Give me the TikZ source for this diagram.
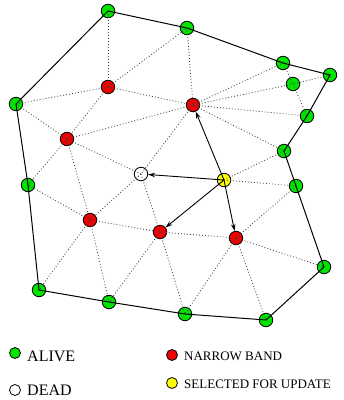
\documentclass[tikz,border=0pt]{standalone}
\usepackage{fontspec}
\setmainfont{Liberation Serif}
\usetikzlibrary{arrows.meta}
\definecolor{alive}{RGB}{0,228,0}
\definecolor{band}{RGB}{240,0,0}
\definecolor{sel}{RGB}{255,255,0}
\tikzset{
  pt/.style={circle,draw=black,line width=0.8pt,minimum size=13.5pt,inner sep=0pt},
  alivept/.style={pt,fill=alive},
  bandpt/.style={pt,fill=band},
  deadpt/.style={pt,fill=white},
  selpt/.style={pt,fill=sel},
  legpt/.style={circle,draw=black,line width=0.8pt,minimum size=11pt,inner sep=0pt},
  tri/.style={black!75,line width=0.8pt,dash pattern=on 0.9pt off 2.1pt},
  bnd/.style={black,line width=1pt},
  upd/.style={black,line width=0.9pt,-{Stealth[length=7pt,width=4.5pt]}},
  lbig/.style={anchor=west,font=\fontsize{16}{18}\selectfont,inner sep=0pt},
  lsmall/.style={anchor=west,font=\fontsize{13}{15}\selectfont,inner sep=0pt}
}
\begin{document}
\begin{tikzpicture}[x=1pt,y=-1pt]
\useasboundingbox (0,0) rectangle (344,400);
% nodes
\node[alivept] (G1) at (108,11) {};
\node[alivept] (G2) at (187,28) {};
\node[alivept] (G3) at (283,63) {};
\node[alivept] (G4) at (330,75) {};
\node[alivept] (G5) at (293,84) {};
\node[alivept] (G6) at (307,116) {};
\node[alivept] (G7) at (284,151) {};
\node[alivept] (G8) at (296,186) {};
\node[alivept] (G9) at (324,267) {};
\node[alivept] (G10) at (266,320) {};
\node[alivept] (G11) at (185,314) {};
\node[alivept] (G12) at (109,302) {};
\node[alivept] (G13) at (39,290) {};
\node[alivept] (G14) at (28,185) {};
\node[alivept] (G15) at (16,104) {};
\node[bandpt] (R1) at (108,87) {};
\node[bandpt] (R2) at (193,105) {};
\node[bandpt] (R3) at (67,139) {};
\node[bandpt] (R4) at (90,220) {};
\node[bandpt] (R5) at (160,232) {};
\node[bandpt] (R6) at (236,238) {};
\node[deadpt] (W) at (141,174) {};
\node[selpt] (Y) at (224,180) {};
% triangulation
\foreach \a/\b in {G1/R1,G15/R1,G15/R3,R1/R3,R1/R2,R1/G2,G2/R2,R2/R3,R2/W,R2/G3,R2/G5,R2/G6,R2/G7,
  G3/G5,G4/G5,G5/G6,G7/Y,Y/G8,G8/R6,R6/G9,R6/G10,R6/G11,R5/R6,R5/G11,R5/G12,R4/G12,R4/G13,
  R4/G14,R4/R5,R3/R4,R3/W,R3/G14,W/R4,W/R5}
  \draw[tri] (\a.center) -- (\b.center);
% boundary
\draw[bnd] (G1.center) -- (G2.center) -- (G3.center) -- (G4.center) -- (G6.center) -- (G7.center)
  -- (G8.center) -- (G9.center) -- (G10.center) -- (G11.center) -- (G12.center) -- (G13.center)
  -- (G14.center) -- (G15.center) -- cycle;
% update arrows
\draw[upd] (Y.center) -- (R2);
\draw[upd] (Y.center) -- (W);
\draw[upd] (Y.center) -- (R5);
\draw[upd] (Y.center) -- (R6);
% legend
\node[legpt,fill=alive] (LA) at (15,353) {};
\node[lbig] (TA) at (27,356.5) {ALIVE};
\node[legpt,fill=white] (LD) at (15,390) {};
\node[lbig] (TD) at (27,390.5) {DEAD};
\node[legpt,fill=band] (LN) at (172,355) {};
\node[lsmall] (TN) at (184,356) {NARROW BAND};
\node[legpt,fill=sel] (LS) at (172,383) {};
\node[lsmall] (TS) at (184,384.5) {SELECTED FOR UPDATE};
\end{tikzpicture}
\end{document}
